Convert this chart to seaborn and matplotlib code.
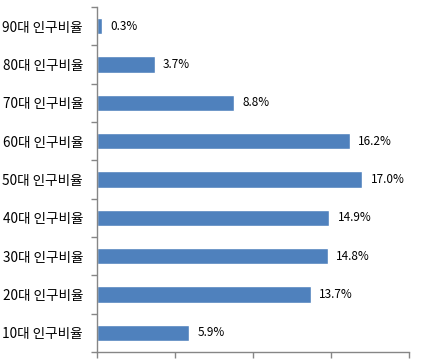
import matplotlib
matplotlib.use('Agg')
import matplotlib.pyplot as plt
import seaborn as sns
import numpy as np
import pandas as pd
import matplotlib.ticker as ticker

# data (top to bottom as drawn)
categories = ['90대 인구비율', '80대 인구비율', '70대 인구비율', '60대 인구비율', '50대 인구비율',
              '40대 인구비율', '30대 인구비율', '20대 인구비율', '10대 인구비율']
ratios = [0.3, 3.7, 8.8, 16.2, 17.0, 14.9, 14.8, 13.7, 5.9]
value_labels = ['0.3%', '3.7%', '8.8%', '16.2%', '17.0%', '14.9%', '14.8%', '13.7%', '5.9%']

sns.set_style('white')
plt.rcParams['font.family'] = ['Noto Sans CJK KR', 'DejaVu Sans']

df = pd.DataFrame({'cat': categories, 'val': ratios})

fig = plt.figure(figsize=(4.26, 3.63), dpi=100)
ax = fig.add_axes([97 / 426, 1 - 352 / 363, (409 - 97) / 426, (352 - 7) / 363])

sns.barplot(data=df, y='cat', x='val', order=categories, orient='h',
            color='#4F81BD', saturation=1, width=0.42, ax=ax)

for i, (v, lab) in enumerate(zip(ratios, value_labels)):
    ax.annotate(lab, (v, i), xytext=(6, 0), textcoords='offset points',
                ha='left', va='center', fontsize=8.5, color='black')

ax.set_xlim(0, 20)
ax.set_ylim(len(categories) - 0.5, -0.5)
ax.set_xlabel('')
ax.set_ylabel('')

ax.xaxis.set_major_locator(ticker.MultipleLocator(5))
ax.set_xticklabels([])
ax.yaxis.set_minor_locator(ticker.FixedLocator(np.arange(-0.5, len(categories), 1)))
ax.tick_params(axis='y', which='major', length=0, pad=10, labelsize=9.8, labelcolor='black')
ax.tick_params(axis='y', which='minor', length=4, width=1, color='#868686', direction='out', left=True)
ax.tick_params(axis='x', which='major', length=4, width=1, color='#868686', direction='out', bottom=True)

for side in ['top', 'right']:
    ax.spines[side].set_visible(False)
for side in ['left', 'bottom']:
    ax.spines[side].set_color('#868686')
    ax.spines[side].set_linewidth(1)

fig.savefig('out.png', dpi=100)
